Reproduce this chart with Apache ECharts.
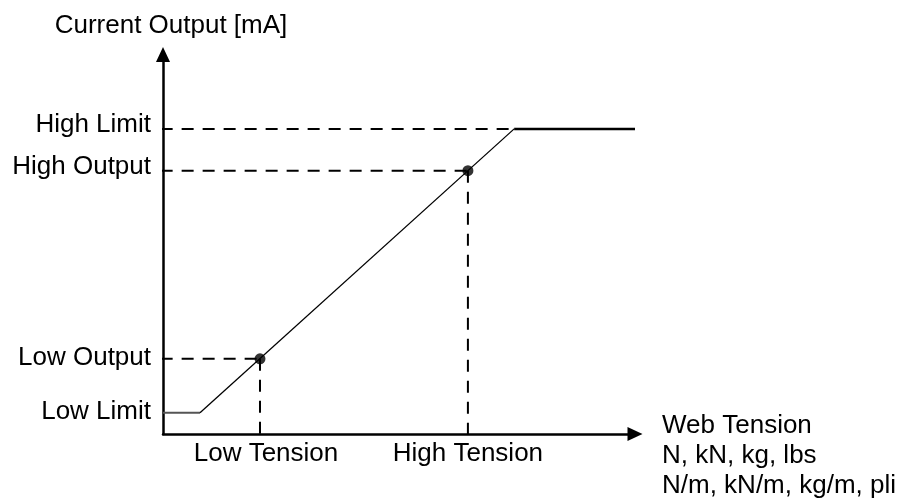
<!DOCTYPE html>
<html><head><meta charset="utf-8">
<script src="https://cdn.jsdelivr.net/npm/echarts@6/dist/echarts.min.js"></script>
<style>html,body{margin:0;padding:0;background:#fff}#chart{width:904px;height:503px}</style>
</head><body><div id="chart"></div>
<script>
// Output levels on the vertical axis and tension set points on the horizontal axis
const levelNames = ['Low Limit', 'Low Output', 'High Output', 'High Limit'];
const levelValues = [5.6, 19.8, 69.4, 80.4];
const tensionNames = ['Low Tension', 'High Tension'];
const tensionValues = [20.55, 64.6];
// Transfer curve: clamped at both limits, linear in between
const curveLow = [[0, 5.6], [7.84, 5.6]];
const curveRamp = [[7.84, 5.6], [74.4, 80.4]];
const curveHigh = [[74.4, 80.4], [100, 80.4]];
// Calibration points on the ramp
const setPoints = [[20.55, 19.8], [64.6, 69.4]];
const yAxisTitle = 'Current Output [mA]';
const xAxisTitle = ['Web Tension', 'N, kN, kg, lbs', 'N/m, kN/m, kg/m, pli'];

const FONT = "'Liberation Sans', Arial, sans-serif";
const AXIS_START = -0.5;

// Dashed guide lines from the axes to the marked points
const guides = [
  [[AXIS_START, levelValues[1]], setPoints[0]],
  [[AXIS_START, levelValues[2]], setPoints[1]],
  [[AXIS_START, levelValues[3]], curveHigh[0]],
  [setPoints[0], [tensionValues[0], 0]],
  [setPoints[1], [tensionValues[1], 0]]
];

const yRich = {
  ll: { padding: [0, 0, 1, 0] },
  lo: { padding: [0, 0, 2, 0] },
  ho: { padding: [0, 0, 7, 0] },
  hl: { padding: [0, 0, 9, 0] }
};
const yKeys = ['ll', 'lo', 'ho', 'hl'];

const chart = echarts.init(document.getElementById('chart'));
chart.setOption({
  animation: false,
  backgroundColor: '#fff',
  grid: { left: 163, right: 269, top: 54.5, bottom: 69, containLabel: false, outerBoundsMode: 'none' },
  xAxis: {
    type: 'value', min: 0, max: 100,
    splitLine: { show: false }, axisTick: { show: false },
    axisLine: { show: true, onZero: false, symbol: ['none', 'triangle'], symbolSize: [14, 15],
      lineStyle: { color: '#000', width: 2.5 } },
    axisLabel: {
      customValues: tensionValues, margin: 7, fontSize: 26, fontFamily: FONT, color: '#000',
      formatter: v => {
        const i = tensionValues.indexOf(v);
        return i === 0 ? '{lt|' + tensionNames[i] + '}' : tensionNames[i];
      },
      rich: { lt: { fontSize: 26, fontFamily: FONT, color: '#000', padding: [0, 0, 0, 12] } }
    },
    // a spacer row pushes the three-line title down so its first line sits on the axis
    name: '{gap| }\n' + xAxisTitle.join('\n'), nameLocation: 'end', nameGap: 27,
    nameTextStyle: { fontSize: 26, fontFamily: FONT, color: '#000', align: 'left',
      verticalAlign: 'middle', lineHeight: 30,
      rich: { gap: { fontSize: 10, lineHeight: 44 } } }
  },
  yAxis: {
    type: 'value', min: 0, max: 100,
    splitLine: { show: false }, axisTick: { show: false },
    axisLine: { show: true, onZero: false, symbol: ['none', 'triangle'], symbolSize: [14, 15],
      lineStyle: { color: '#000', width: 2.5 } },
    axisLabel: {
      customValues: levelValues, margin: 12, fontSize: 26, fontFamily: FONT, color: '#000',
      formatter: v => {
        const i = levelValues.indexOf(v);
        return '{' + yKeys[i] + '|' + levelNames[i] + '}';
      },
      rich: Object.fromEntries(Object.entries(yRich).map(([k, s]) =>
        [k, Object.assign({ fontSize: 26, fontFamily: FONT, color: '#000' }, s)]))
    },
    name: yAxisTitle, nameLocation: 'end', nameGap: 16,
    nameTextStyle: { fontSize: 26, fontFamily: FONT, color: '#000', padding: [0, 0, 0, 16] }
  },
  series: [
    ...guides.map(g => ({
      type: 'line', data: g, symbol: 'none', clip: false, silent: true, z: 2,
      lineStyle: { color: '#000', width: 2, type: [12, 9] }
    })),
    { type: 'line', data: curveLow, symbol: 'none', clip: false, z: 3,
      lineStyle: { color: '#555', width: 2 } },
    { type: 'line', data: curveRamp, symbol: 'none', clip: false, z: 3,
      lineStyle: { color: '#000', width: 1.3 } },
    { type: 'line', data: curveHigh, symbol: 'none', clip: false, z: 3,
      lineStyle: { color: '#000', width: 2.5 } },
    { type: 'scatter', data: setPoints, symbol: 'circle', symbolSize: 11, z: 5,
      itemStyle: { color: '#000' } }
  ]
});
</script></body></html>
